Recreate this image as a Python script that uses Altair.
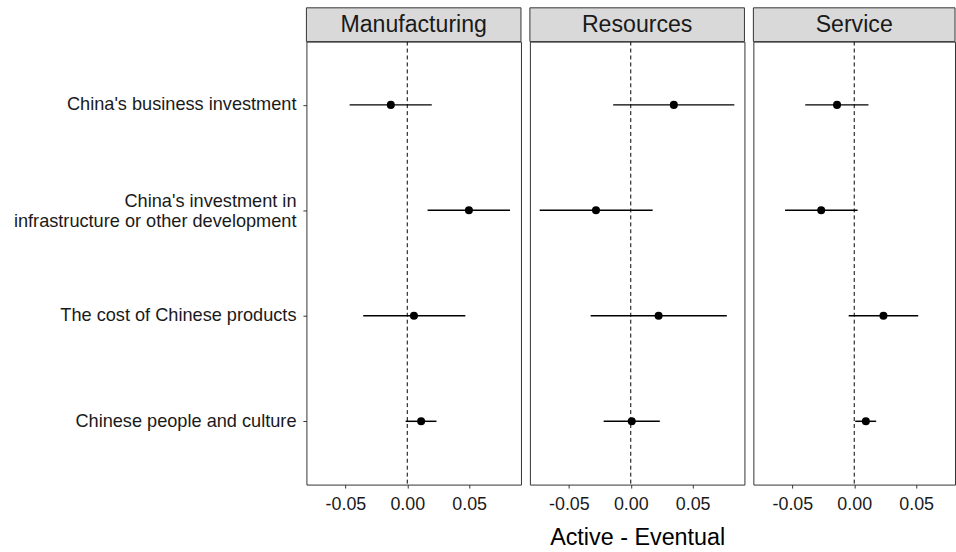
import altair as alt
import pandas as pd

# Sectors shown as panels and the survey items on the y axis
sectors = ["Manufacturing", "Resources", "Service"]
items = [
    "China's business investment",
    "China's investment in\ninfrastructure or other development",
    "The cost of Chinese products",
    "Chinese people and culture",
]

# Difference estimates (Active - Eventual) with interval bounds, per sector
est = {
    "Manufacturing": [-0.0133, 0.0498, 0.0054, 0.0112],
    "Resources": [0.0348, -0.0281, 0.0225, 0.0008],
    "Service": [-0.0139, -0.0267, 0.0236, 0.0094],
}
low = {
    "Manufacturing": [-0.0466, 0.0164, -0.0356, -0.0013],
    "Resources": [-0.0142, -0.0736, -0.0324, -0.0219],
    "Service": [-0.0396, -0.0559, -0.0045, 0.0008],
}
high = {
    "Manufacturing": [0.0198, 0.0830, 0.0469, 0.0236],
    "Resources": [0.0837, 0.0177, 0.0776, 0.0235],
    "Service": [0.0115, 0.0027, 0.0517, 0.0177],
}
x_ticks = [-0.05, 0.0, 0.05]

FONT = "Liberation Sans"
H = 446
STRIP = 34
widths = {"Manufacturing": 216, "Resources": 216, "Service": 203}
domains = {
    "Manufacturing": [-0.0815, -0.0815 + 216 / 1246],
    "Resources": [-0.0815, -0.0815 + 216 / 1246],
    "Service": [-0.0815, -0.0815 + 203 / 1246],
}

# tick labels with a plain hyphen for negatives
TICK_LABEL = ("datum.value < 0 ? '-' + format(-datum.value, '.2f') "
              ": format(datum.value, '.2f')")


def panel(sector, first, middle):
    W = widths[sector]
    df = pd.DataFrame({
        "item": items,
        "est": est[sector],
        "low": low[sector],
        "high": high[sector],
    })
    xscale = alt.Scale(domain=domains[sector], nice=False, zero=False)
    xaxis = alt.Axis(
        values=x_ticks, labelExpr=TICK_LABEL, grid=False, domain=False,
        tickColor="#333333", tickSize=3.5, labelFontSize=18,
        labelColor="#1a1a1a", labelPadding=8, labelFont=FONT,
        title="Active - Eventual" if middle else None,
        titleFontSize=23.5, titleFontWeight="normal", titleFont=FONT,
        titleColor="#000000", titlePadding=12,
    )
    if first:
        yaxis = alt.Axis(
            title=None, domain=False, grid=False, tickColor="#333333",
            tickSize=3.5, labelFontSize=18.3, labelColor="#1a1a1a",
            labelPadding=7, labelFont=FONT, labelLineHeight=20,
            labelLimit=400, labelExpr="split(datum.label, '\\n')",
            # two-line labels are centred on their tick
            labelOffset={
                "condition": {"test": "indexof(datum.value, '\\n') >= 0",
                              "value": -9},
                "value": 0,
            },
        )
    else:
        yaxis = None
    yscale = alt.Scale(type="point", padding=0.6, domain=items)

    base = alt.Chart(df)
    bars = base.mark_rule(color="black", strokeWidth=1.5).encode(
        x=alt.X("low:Q", scale=xscale, axis=xaxis),
        x2="high:Q",
        y=alt.Y("item:N", scale=yscale, axis=yaxis, sort=items),
    )
    dots = base.mark_circle(color="black", size=65, opacity=1).encode(
        x=alt.X("est:Q", scale=xscale),
        y=alt.Y("item:N", scale=yscale, sort=items),
    )
    zero = alt.Chart(pd.DataFrame({"zero": [0.0]})).mark_rule(
        color="black", strokeWidth=1, strokeDash=[4, 3]
    ).encode(x=alt.X("zero:Q", scale=xscale))
    strip_df = pd.DataFrame({"sector": [sector]})
    strip = alt.Chart(strip_df).mark_rect(
        fill="#d9d9d9", stroke="#333333", strokeWidth=1
    ).encode(
        x=alt.value(0), x2=alt.value(W), y=alt.value(-STRIP), y2=alt.value(0)
    )
    strip_text = alt.Chart(strip_df).mark_text(
        font=FONT, fontSize=23.3, color="#1a1a1a", baseline="middle", align="center"
    ).encode(x=alt.value(W / 2), y=alt.value(-STRIP / 2), text="sector:N")

    return alt.layer(zero, bars, dots, strip, strip_text).properties(
        width=W, height=H
    )


chart = alt.hconcat(
    panel("Manufacturing", True, False),
    panel("Resources", False, True),
    panel("Service", False, False),
    spacing=7,
).configure(
    background="white",
    padding={"left": 12.5, "top": 5, "right": 0, "bottom": 0},
).configure_view(
    stroke="#333333", strokeWidth=1
)

chart.save("out.html", embed_options={"renderer": "svg", "actions": False})
